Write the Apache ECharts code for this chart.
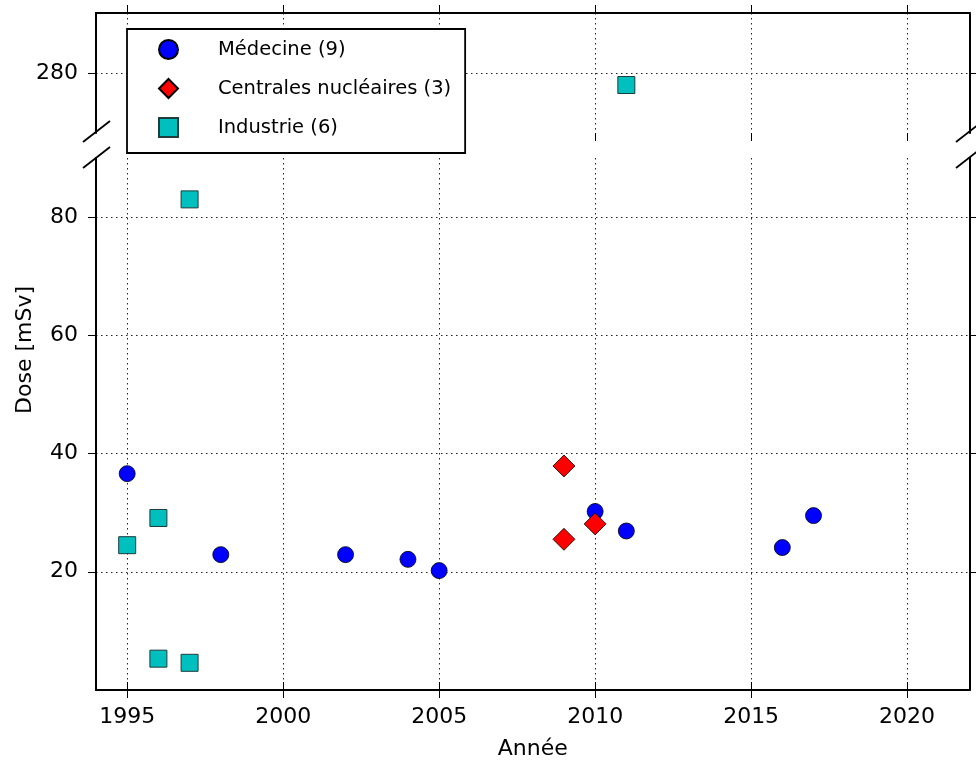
<!DOCTYPE html>
<html><head><meta charset="utf-8">
<script src="https://cdn.jsdelivr.net/npm/echarts@6/dist/echarts.min.js"></script>
<style>html,body{margin:0;padding:0;background:#fff}#c{width:976px;height:767px}</style>
</head><body><div id="c"></div>
<script>
// ---- data ----
const xTicks = [1995, 2000, 2005, 2010, 2015, 2020];
const yTicksLow = [20, 40, 60, 80];
const yTicksHigh = [280];

const medName = 'Médecine (9)';
const medYears = [1995, 1998, 2002, 2004, 2005, 2010, 2011, 2016, 2017];
const medDose  = [36.6, 22.9, 22.9, 22.1, 20.2, 30.2, 26.9, 24.1, 29.5];

const nucName = 'Centrales nucléaires (3)';
const nucYears = [2009, 2009, 2010];
const nucDose  = [37.9, 25.5, 28.1];

const indName = 'Industrie (6)';
const indYears = [1995, 1996, 1996, 1997, 1997, 2011];
const indDose  = [24.5, 29.1, 5.3, 4.6, 83.0, 278.0];

const lowRange = [0, 90];
const highRange = [270, 290];
const xRange = [1994, 2022];

// ---- build ----
function pts(years, doses, range) {
  const out = [];
  years.forEach((y, i) => { if (doses[i] >= range[0] && doses[i] <= range[1]) out.push([y, doses[i]]); });
  return out;
}
const FONT = 'DejaVu Sans';
const plain = v => String(v);
const dotted = { show: true, lineStyle: { color: '#222', width: 1, type: [1.5, 3.5] } };
const tickOut = (vals) => ({ show: true, inside: false, length: 8, customValues: vals, lineStyle: { color: '#000', width: 1 } });
const spine = { show: true, lineStyle: { color: '#000', width: 2 } };

const styles = {
  med: { symbol: 'circle', symbolSize: 16, itemStyle: { color: '#0000ff', borderColor: '#000', borderWidth: 0.8, opacity: 1 } },
  nuc: { symbol: 'diamond', symbolSize: 22, itemStyle: { color: '#ff0000', borderColor: '#000', borderWidth: 0.8, opacity: 1 } },
  ind: { symbol: 'rect', symbolSize: 17, itemStyle: { color: '#00bfbf', borderColor: '#1e3c3c', borderWidth: 1, opacity: 1 } }
};

function mk(name, st, data, xi, yi) {
  return Object.assign({ type: 'scatter', name, data, xAxisIndex: xi, yAxisIndex: yi, emphasis: { disabled: true }, z: 3 }, st);
}

const series = [
  mk(medName, styles.med, pts(medYears, medDose, lowRange), 2, 1),
  mk(nucName, styles.nuc, pts(nucYears, nucDose, lowRange), 2, 1),
  mk(indName, styles.ind, pts(indYears, indDose, lowRange), 2, 1),
  mk(medName, styles.med, pts(medYears, medDose, highRange), 0, 0),
  mk(nucName, styles.nuc, pts(nucYears, nucDose, highRange), 0, 0),
  mk(indName, styles.ind, pts(indYears, indDose, highRange), 0, 0)
];

const chart = echarts.init(document.getElementById('c'), null, { renderer: 'canvas' });
chart.setOption({
  animation: false,
  backgroundColor: '#fff',
  textStyle: { fontFamily: FONT },
  grid: [
    { left: 96, right: 6.5, top: 13, height: 120 },
    { left: 96, right: 6.5, top: 158, bottom: 77 }
  ],
  xAxis: [
    { type: 'value', gridIndex: 0, position: 'top', min: xRange[0], max: xRange[1],
      axisLine: spine, axisTick: tickOut(xTicks), axisLabel: { show: false, customValues: xTicks }, splitLine: dotted },
    { type: 'value', gridIndex: 0, position: 'bottom', min: xRange[0], max: xRange[1],
      axisLine: { show: false }, axisTick: tickOut(xTicks), axisLabel: { show: false }, splitLine: { show: false } },
    { type: 'value', gridIndex: 1, position: 'bottom', min: xRange[0], max: xRange[1],
      name: 'Année', nameLocation: 'middle', nameGap: 48,
      nameTextStyle: { fontSize: 22, color: '#000', fontFamily: FONT },
      axisLine: spine, axisTick: tickOut(xTicks),
      axisLabel: { customValues: xTicks, formatter: plain, fontSize: 22, color: '#000', margin: 16, fontFamily: FONT },
      splitLine: dotted },
    { type: 'value', gridIndex: 1, position: 'top', min: xRange[0], max: xRange[1],
      axisLine: { show: false }, axisTick: tickOut(xTicks), axisLabel: { show: false }, splitLine: { show: false } }
  ],
  yAxis: [
    { type: 'value', gridIndex: 0, position: 'left', min: highRange[0], max: highRange[1],
      axisLine: spine, axisTick: tickOut(yTicksHigh),
      axisLabel: { customValues: yTicksHigh, formatter: plain, fontSize: 22, color: '#000', margin: 18, fontFamily: FONT },
      splitLine: dotted },
    { type: 'value', gridIndex: 1, position: 'left', min: lowRange[0], max: lowRange[1],
      axisLine: spine, axisTick: tickOut(yTicksLow),
      axisLabel: { customValues: yTicksLow, formatter: plain, fontSize: 22, color: '#000', margin: 18, fontFamily: FONT },
      splitLine: dotted },
    { type: 'value', gridIndex: 0, position: 'right', min: highRange[0], max: highRange[1],
      axisLine: spine, axisTick: tickOut(yTicksHigh), axisLabel: { show: false }, splitLine: { show: false } },
    { type: 'value', gridIndex: 1, position: 'right', min: lowRange[0], max: lowRange[1],
      axisLine: spine, axisTick: tickOut(yTicksLow), axisLabel: { show: false }, splitLine: { show: false } }
  ],
  legend: {
    show: true, orient: 'vertical', left: 127, top: 29,
    data: [medName, nucName, indName],
    itemWidth: 19, itemHeight: 19, itemGap: 18,
    padding: [10, 14, 15, 31],
    backgroundColor: '#fff', borderColor: '#000', borderWidth: 1.8,
    selectedMode: false,
    textStyle: { fontSize: 19.5, color: '#000', fontFamily: FONT, lineHeight: 20, padding: [0, 0, 0, 35] },
    z: 10
  },
  graphic: [
    { type: 'text', x: 25, y: 350, rotation: Math.PI / 2,
      style: { text: 'Dose [mSv]', fontSize: 22, fontFamily: FONT, fill: '#000', align: 'center', verticalAlign: 'middle' } },
    { type: 'line', shape: { x1: 83, y1: 142, x2: 110, y2: 121 }, style: { stroke: '#000', lineWidth: 1.8 }, z: 20 },
    { type: 'line', shape: { x1: 83, y1: 168, x2: 110, y2: 147 }, style: { stroke: '#000', lineWidth: 1.8 }, z: 20 },
    { type: 'line', shape: { x1: 956, y1: 142, x2: 983, y2: 121 }, style: { stroke: '#000', lineWidth: 1.8 }, z: 20 },
    { type: 'line', shape: { x1: 956, y1: 168, x2: 983, y2: 147 }, style: { stroke: '#000', lineWidth: 1.8 }, z: 20 }
  ],
  series
});
</script>
</body></html>
